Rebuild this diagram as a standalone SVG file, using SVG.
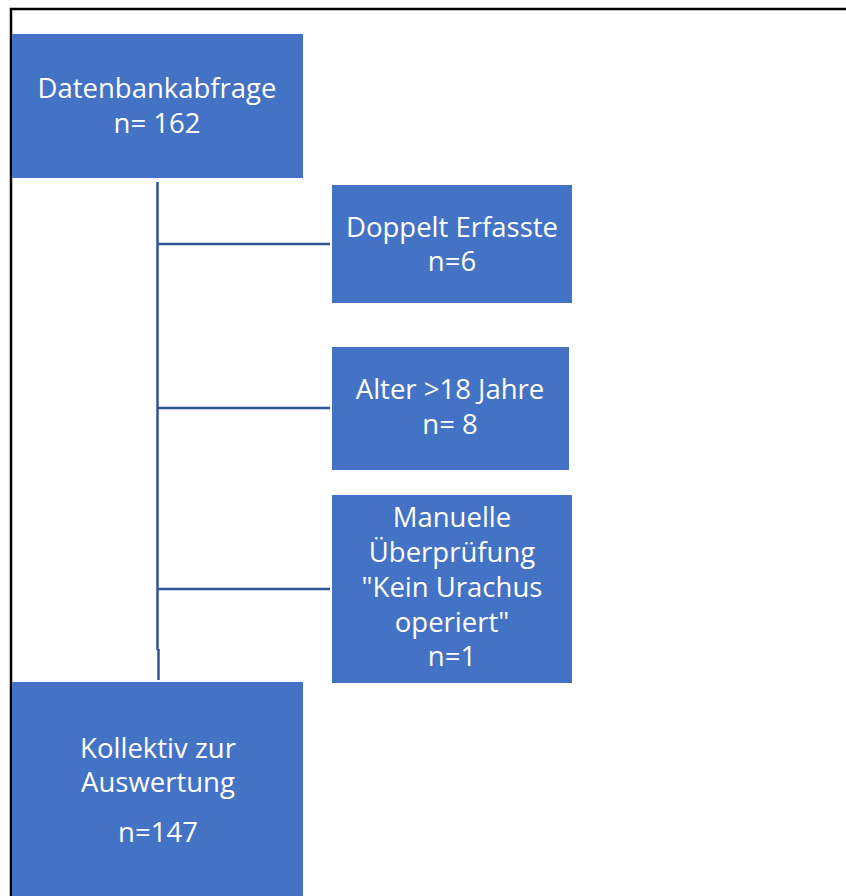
<svg xmlns="http://www.w3.org/2000/svg" width="846" height="896" viewBox="0 0 846 896">
<style>
.box{fill:#4472C4}
.t{font-family:"Open Sans","Liberation Sans",sans-serif;font-size:27.5px;fill:#FFFFFF;text-anchor:middle}
.c{stroke:#2F5597;stroke-width:2.5;fill:none}
</style>
<rect x="0" y="0" width="846" height="896" fill="#FFFFFF"/>
<path d="M11 896 V9 H846" fill="none" stroke="#000000" stroke-width="2.5"/>
<g id="connectors">
<line class="c" x1="157.5" y1="182" x2="157.5" y2="650"/>
<line class="c" x1="158.5" y1="649" x2="158.5" y2="680"/>
<line class="c" x1="157.5" y1="244" x2="330" y2="244"/>
<line class="c" x1="157.5" y1="408" x2="330" y2="408"/>
<line class="c" x1="157.5" y1="589" x2="330" y2="589"/>
</g>
<g id="n1">
<rect class="box" x="12" y="34" width="291" height="144"/>
<text class="t" x="157" y="98">Datenbankabfrage</text>
<text class="t" x="157" y="133">n= 162</text>
</g>
<g id="n2">
<rect class="box" x="332" y="185" width="240" height="118"/>
<text class="t" x="452" y="237">Doppelt Erfasste</text>
<text class="t" x="452" y="271">n=6</text>
</g>
<g id="n3">
<rect class="box" x="332" y="347" width="237" height="123"/>
<text class="t" x="450" y="399">Alter &gt;18 Jahre</text>
<text class="t" x="450" y="434">n= 8</text>
</g>
<g id="n4">
<rect class="box" x="332" y="495" width="240" height="188"/>
<text class="t" x="452" y="527">Manuelle</text>
<text class="t" x="452" y="562">Überprüfung</text>
<text class="t" x="452" y="597">"Kein Urachus</text>
<text class="t" x="452" y="632">operiert"</text>
<text class="t" x="452" y="666">n=1</text>
</g>
<g id="n5">
<rect class="box" x="12" y="682" width="291" height="214"/>
<text class="t" x="158" y="758">Kollektiv zur</text>
<text class="t" x="158" y="792">Auswertung</text>
<text class="t" x="158" y="842">n=147</text>
</g>
</svg>
